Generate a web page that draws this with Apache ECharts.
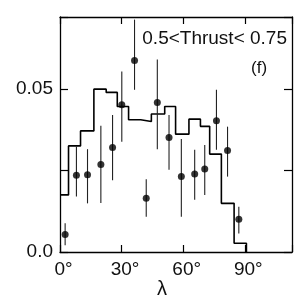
<!DOCTYPE html>
<html>
<head>
<meta charset="utf-8">
<script src="https://cdn.jsdelivr.net/npm/echarts@6/dist/echarts.min.js"></script>
<style>
html,body{margin:0;padding:0;background:#fff;}
#main{width:302px;height:300px;}
</style>
</head>
<body>
<div id="main"></div>
<script>
// Monte Carlo histogram (bin edges in degrees, bin contents)
const binEdges = [0, 4.15, 10.0, 16.5, 22.5, 27.9, 33.4, 39.3, 44.5, 51.0, 56.3, 62.8, 68.4, 72.9, 78.6, 84.8, 90.8];
const mcValues = [0.0175, 0.0325, 0.0371, 0.0499, 0.0489, 0.0446, 0.0405, 0.0400, 0.0423, 0.0446, 0.0361, 0.0407, 0.0385, 0.0300, 0.0149, 0.0027];
// Data points with error bars
const pointAngles = [2.5, 8.0, 13.4, 19.9, 25.6, 30.1, 36.3, 42.0, 47.4, 53.1, 59.1, 65.6, 70.5, 76.2, 81.6, 87.1];
const pointValues = [0.0054, 0.0235, 0.0237, 0.0268, 0.0320, 0.0451, 0.0587, 0.0165, 0.0458, 0.0351, 0.0231, 0.0239, 0.0254, 0.0402, 0.0311, 0.0100];
const errLow  = [0.0021, 0.0170, 0.0149, 0.0150, 0.0220, 0.0338, 0.0497, 0.0108, 0.0315, 0.0252, 0.0108, 0.0160, 0.0175, 0.0313, 0.0231, 0.0057];
const errHigh = [0.0088, 0.0323, 0.0315, 0.0387, 0.0420, 0.0553, 0.0712, 0.0223, 0.0590, 0.0420, 0.0346, 0.0313, 0.0328, 0.0497, 0.0384, 0.0139];
// Tick labels
const xTickLabels = {0: '0°', 30: '30°', 60: '60°', 90: '90°'};
const yTickLabels = [[0, '0.0'], [0.05, '0.05']];
const titleText = '0.5<Thrust< 0.75';
const panelText = '(f)';
const xName = 'λ';

const FONT = 'Liberation Sans';
const chart = echarts.init(document.getElementById('main'), null, {renderer: 'canvas'});

const histPoints = [];
for (let i = 0; i < mcValues.length; i++) {
  histPoints.push([binEdges[i], mcValues[i]]);
  histPoints.push([binEdges[i + 1], mcValues[i]]);
}
histPoints.push([binEdges[binEdges.length - 1], 0]);

const axisLine = {show: true, onZero: false, lineStyle: {color: '#000', width: 1.3}};
const axisTick = {show: true, inside: true, length: 7, lineStyle: {color: '#000', width: 1.2}};

const option = {
  animation: false,
  backgroundColor: '#fff',
  grid: {left: 60, right: 10, top: 17, bottom: 48},
  title: [
    {text: titleText, right: 10, top: 24, textStyle: {fontFamily: FONT, fontSize: 19, fontWeight: 'normal', color: '#111'}},
    {text: panelText, left: 246, top: 55, textStyle: {fontFamily: FONT, fontSize: 17, fontWeight: 'normal', color: '#111'}}
  ],
  graphic: [
    {type: 'text', left: 157, top: 279, style: {text: xName, font: '20px ' + FONT, fill: '#111'}}
  ],
  xAxis: [
    {type: 'value', min: 0, max: 113, interval: 30, position: 'bottom',
     axisLine: axisLine, axisTick: axisTick, splitLine: {show: false},
     axisLabel: {margin: 8, fontFamily: FONT, fontSize: 19, color: '#111', padding: [0, 0, 0, 7],
       formatter: v => (xTickLabels[v] !== undefined ? xTickLabels[v] : '')}},
    {type: 'value', min: 0, max: 113, interval: 30, position: 'top',
     axisLine: axisLine, axisTick: axisTick, splitLine: {show: false}, axisLabel: {show: false}}
  ],
  yAxis: [
    {type: 'value', min: 0, max: 0.072, interval: 0.025, position: 'left',
     axisLine: axisLine, axisTick: {show: true, inside: true, length: 8, lineStyle: {color: '#000', width: 1.2}},
     splitLine: {show: false},
     axisLabel: {margin: 7, fontFamily: FONT, fontSize: 19, color: '#111',
       formatter: v => { for (const [val, t] of yTickLabels) { if (Math.abs(v - val) < 1e-9) return t; } return ''; }}},
    {type: 'value', min: 0, max: 0.072, interval: 0.025, position: 'right',
     axisLine: axisLine, axisTick: {show: true, inside: true, length: 8, lineStyle: {color: '#000', width: 1.2}},
     splitLine: {show: false}, axisLabel: {show: false}}
  ],
  series: [
    {type: 'line', data: histPoints, showSymbol: false, symbol: 'none',
     lineStyle: {color: '#000', width: 1.6}, z: 3},
    {type: 'custom',
     data: pointAngles.map((a, i) => [a, errLow[i], errHigh[i]]),
     encode: {x: 0, y: [1, 2]},
     renderItem: function (params, api) {
       const x = api.value(0);
       const lo = api.coord([x, api.value(1)]);
       const hi = api.coord([x, api.value(2)]);
       return {type: 'line', shape: {x1: lo[0], y1: lo[1], x2: hi[0], y2: hi[1]},
               style: {stroke: '#222', lineWidth: 1.1}};
     }, z: 4},
    {type: 'scatter', data: pointAngles.map((a, i) => [a, pointValues[i]]),
     symbol: 'circle', symbolSize: 7, itemStyle: {color: '#000'}, z: 5}
  ]
};
chart.setOption(option);
</script>
</body>
</html>
